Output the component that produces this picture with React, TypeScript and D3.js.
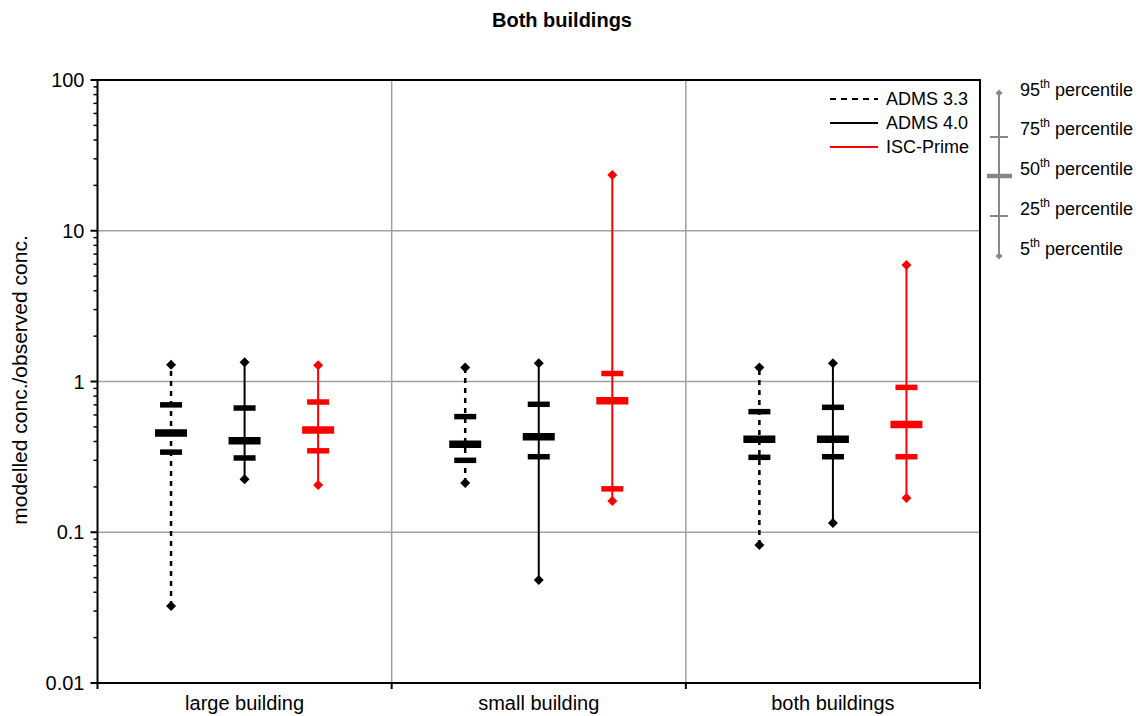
import React from "react";
import * as d3 from "d3";

const title = "Both buildings";
const yLabel = "modelled conc./observed conc.";
const categories = ["large building", "small building", "both buildings"];
const series = ["ADMS 3.3", "ADMS 4.0", "ISC-Prime"];
const seriesColors = ["#000000", "#000000", "#ff0000"];
const seriesDash = ["5,5", null, null];
const legendDash = ["6,5", null, null];
const yTicks = [0.01, 0.1, 1, 10, 100];
const yTickLabels = ["0.01", "0.1", "1", "10", "100"];

// percentiles per series, per category: [p5, p25, p50, p75, p95]
const adms33 = [
  [0.0324, 0.34, 0.455, 0.7, 1.29],
  [0.212, 0.3, 0.383, 0.585, 1.24],
  [0.0822, 0.314, 0.414, 0.631, 1.24],
];
const adms40 = [
  [0.225, 0.311, 0.404, 0.667, 1.34],
  [0.0482, 0.317, 0.43, 0.706, 1.32],
  [0.115, 0.317, 0.414, 0.674, 1.32],
];
const iscPrime = [
  [0.206, 0.347, 0.477, 0.731, 1.28],
  [0.161, 0.194, 0.746, 1.13, 23.4],
  [0.169, 0.317, 0.518, 0.914, 5.93],
];
const seriesData = [adms33, adms40, iscPrime];
const percentileLabels = ["95", "75", "50", "25", "5"];

const W = 1143;
const H = 716;
const left = 97.5;
const right = 980;
const top = 80;
const bottom = 683;
const font = "Arial, 'Liberation Sans', sans-serif";

export default function App() {
  const y = d3.scaleLog().domain([0.01, 100]).range([bottom, top]);
  const x = d3.scaleBand<string>().domain(categories).range([left, right]).padding(0);
  const bw = x.bandwidth();
  const xs = d3.scalePoint<string>().domain(series).range([bw * 0.25, bw * 0.75]);

  const minor: number[] = [];
  for (let e = -2; e < 2; e++) {
    for (let k = 2; k <= 9; k++) minor.push(k * Math.pow(10, e));
  }

  const diamond = (cx: number, cy: number, r: number) =>
    `M${cx},${cy - r}L${cx + r},${cy}L${cx},${cy + r}L${cx - r},${cy}Z`;

  const legY = [99, 123, 147];
  const pctY = [93, 137, 176, 216, 256];
  const pctText = [96, 135, 175, 215, 255];
  const gray = "#888888";

  return (
    <svg width={W} height={H} style={{ position: "absolute", left: 0, top: 0, background: "#fff" }} fontFamily={font}>
      <text x={562} y={27} textAnchor="middle" fontSize={20} fontWeight="bold">{title}</text>
      {/* gridlines */}
      {yTicks.slice(1, -1).map((t) => (
        <line key={"g" + t} x1={left} x2={right} y1={y(t)} y2={y(t)} stroke="#a0a0a0" strokeWidth={1.5} />
      ))}
      {categories.slice(1).map((c) => (
        <line key={"v" + c} x1={x(c)!} x2={x(c)!} y1={top} y2={bottom} stroke="#a0a0a0" strokeWidth={1.5} />
      ))}
      {/* frame */}
      <rect x={left} y={top} width={right - left} height={bottom - top} fill="none" stroke="#000" strokeWidth={2} />
      {/* y ticks */}
      {yTicks.map((t, i) => (
        <g key={"t" + t}>
          <line x1={left - 7} x2={left} y1={y(t)} y2={y(t)} stroke="#000" strokeWidth={2} />
          <text x={left - 13} y={y(t)} dy="0.35em" textAnchor="end" fontSize={20}>{yTickLabels[i]}</text>
        </g>
      ))}
      {minor.map((t) => (
        <line key={"m" + t} x1={left - 4} x2={left} y1={y(t)} y2={y(t)} stroke="#000" strokeWidth={1.5} />
      ))}
      {/* x ticks */}
      {[left, ...categories.slice(1).map((c) => x(c)!), right].map((v, i) => (
        <line key={"xt" + i} x1={v} x2={v} y1={bottom} y2={bottom + 6} stroke="#000" strokeWidth={2} />
      ))}
      {categories.map((c) => (
        <text key={"c" + c} x={x(c)! + bw / 2} y={710} textAnchor="middle" fontSize={20}>{c}</text>
      ))}
      <text transform={`translate(27,380) rotate(-90)`} textAnchor="middle" fontSize={21}>{yLabel}</text>
      {/* boxes */}
      {series.map((s, si) =>
        categories.map((c, ci) => {
          const d = seriesData[si][ci];
          const cx = x(c)! + xs(s)!;
          const col = seriesColors[si];
          return (
            <g key={s + c}>
              <line x1={cx} x2={cx} y1={y(d[0])} y2={y(d[4])} stroke={col}
                strokeWidth={seriesDash[si] ? 2.5 : 2} strokeDasharray={seriesDash[si] || undefined} />
              <line x1={cx - 11} x2={cx + 11} y1={y(d[1])} y2={y(d[1])} stroke={col} strokeWidth={5.5} />
              <line x1={cx - 11} x2={cx + 11} y1={y(d[3])} y2={y(d[3])} stroke={col} strokeWidth={5.5} />
              <line x1={cx - 16} x2={cx + 16} y1={y(d[2])} y2={y(d[2])} stroke={col} strokeWidth={7.5} />
              <path d={diamond(cx, y(d[0]), 5)} fill={col} />
              <path d={diamond(cx, y(d[4]), 5)} fill={col} />
            </g>
          );
        })
      )}
      {/* series legend */}
      {series.map((s, i) => (
        <g key={"l" + s}>
          <line x1={830} x2={878} y1={legY[i]} y2={legY[i]} stroke={seriesColors[i]} strokeWidth={2}
            strokeDasharray={legendDash[i] || undefined} />
          <text x={886} y={legY[i]} dy="0.35em" fontSize={18}>{s}</text>
        </g>
      ))}
      {/* percentile legend */}
      <line x1={999} x2={999} y1={pctY[0]} y2={pctY[4]} stroke={gray} strokeWidth={2} />
      <path d={diamond(999, pctY[0], 3.5)} fill={gray} />
      <path d={diamond(999, pctY[4], 3.5)} fill={gray} />
      <line x1={990} x2={1008} y1={pctY[1]} y2={pctY[1]} stroke={gray} strokeWidth={2} />
      <line x1={987} x2={1012} y1={pctY[2]} y2={pctY[2]} stroke={gray} strokeWidth={4.5} />
      <line x1={990} x2={1008} y1={pctY[3]} y2={pctY[3]} stroke={gray} strokeWidth={2} />
      {percentileLabels.map((p, i) => (
        <text key={"p" + p} x={1020} y={pctText[i]} fontSize={18}>
          {p}
          <tspan fontSize={12} dy={-8}>th</tspan>
          <tspan dy={8}> percentile</tspan>
        </text>
      ))}
    </svg>
  );
}
